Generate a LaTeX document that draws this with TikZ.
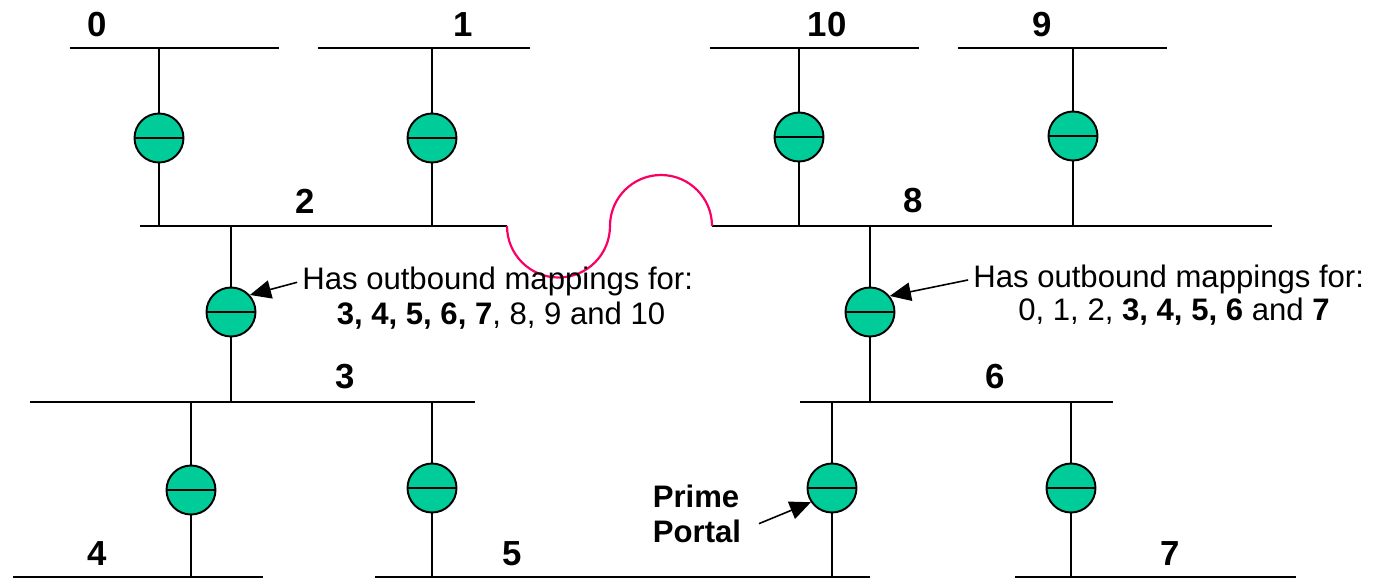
\documentclass[tikz,border=0pt]{standalone}
\usepackage{fontspec}
\setmainfont{Liberation Sans}
\usetikzlibrary{arrows.meta}
\definecolor{portalgreen}{RGB}{0,204,153}
\definecolor{bridgepink}{RGB}{250,0,100}

\begin{document}
\begin{tikzpicture}[
    x=0.02cm, y=-0.02cm,
    every node/.style={font=\fontsize{17.7}{21}\selectfont, inner sep=0pt},
    bus/.style={line width=1.25pt},
    link/.style={line width=1.1pt},
    bridge/.style={line width=1.25pt, draw=bridgepink},
    portal/.style={circle, draw, line width=1.1pt, fill=portalgreen,
      minimum size=0.98cm,
      path picture={\draw[line width=1.1pt] (path picture bounding box.west)
        -- (path picture bounding box.east);}},
    lbl/.style={font=\fontsize{19.8}{22}\selectfont\bfseries},
    ptr/.style={line width=0.9pt, -{Triangle[length=12pt, width=10.5pt]}},
]
\useasboundingbox (0,0) rectangle (1376,579);

% Buses
\draw[bus] (70,48)   -- (279,48);
\draw[bus] (318,48)  -- (530,48);
\draw[bus] (710,48)  -- (919,48);
\draw[bus] (958,48)  -- (1167,48);
\draw[bus] (140,226) -- (507,226);
\draw[bus] (712,226) -- (1272,226);
\draw[bus] (30,402)  -- (475,402);
\draw[bus] (800,402) -- (1113,402);
\draw[bus] (13,577)  -- (263,577);
\draw[bus] (375,577) -- (870,577);
\draw[bus] (1015,577) -- (1296,577);
% bridge between 2 and 8
\draw[bridge] (507,226) arc[start angle=180, end angle=0, radius=51.5]
                        arc[start angle=180, end angle=360, radius=51];

% Bus labels
\node[lbl] (n0)  at (97,25)   {0};
\node[lbl] (n1)  at (463,25)  {1};
\node[lbl] (n10) at (827,25)  {10};
\node[lbl] (n9)  at (1042,25) {9};
\node[lbl] (n2)  at (305,201) {2};
\node[lbl] (n8)  at (913,201) {8};
\node[lbl] (n3)  at (345,377) {3};
\node[lbl] (n6)  at (995,377) {6};
\node[lbl] (n4)  at (97,554)  {4};
\node[lbl] (n5)  at (512,554) {5};
\node[lbl] (n7)  at (1170,554) {7};

% Upper portals
\coordinate (t0) at (159,48);   \coordinate (b0) at (159,226);
\coordinate (t1) at (432,48);   \coordinate (b1) at (432,226);
\coordinate (t10) at (799,48);  \coordinate (b10) at (799,226);
\coordinate (t9) at (1073,48);  \coordinate (b9) at (1073,226);
\node[portal] (p0)  at (159,138)  {};
\node[portal] (p1)  at (432,138)  {};
\node[portal] (p10) at (799,137)  {};
\node[portal] (p9)  at (1073,136) {};
\draw[link] (t0) -- (p0) -- (b0);
\draw[link] (t1) -- (p1) -- (b1);
\draw[link] (t10) -- (p10) -- (b10);
\draw[link] (t9) -- (p9) -- (b9);

% Middle portals
\coordinate (tA) at (231,226);  \coordinate (bA) at (231,402);
\coordinate (tB) at (870,226);  \coordinate (bB) at (870,402);
\node[portal] (pA) at (231,312) {};
\node[portal] (pB) at (870,312) {};
\draw[link] (tA) -- (pA) -- (bA);
\draw[link] (tB) -- (pB) -- (bB);

% Lower portals
\coordinate (t4) at (191,402);  \coordinate (b4) at (191,577);
\coordinate (t5) at (432,402);  \coordinate (b5) at (432,577);
\coordinate (tP) at (832,402);  \coordinate (bP) at (832,577);
\coordinate (t7) at (1071,402); \coordinate (b7) at (1071,577);
\node[portal] (p4) at (191,490)  {};
\node[portal] (p5) at (432,488)  {};
\node[portal] (pP) at (832,488)  {};
\node[portal] (p7) at (1071,488) {};
\draw[link] (t4) -- (p4) -- (b4);
\draw[link] (t5) -- (p5) -- (b5);
\draw[link] (tP) -- (pP) -- (bP);
\draw[link] (t7) -- (p7) -- (b7);

% Notes
\node[anchor=base west] (mapA) at (302,289) {Has outbound mappings for:};
\node[anchor=base] (mapA2) at (501,324) {\textbf{3, 4, 5, 6, 7}, 8, 9 and 10};
\node[anchor=base west] (mapB) at (973,287) {Has outbound mappings for:};
\node[anchor=base] (mapB2) at (1174,320) {0, 1, 2, \textbf{3, 4, 5, 6} and \textbf{7}};
\node[anchor=base, font=\fontsize{17.7}{21}\selectfont\bfseries] (prime) at (696,507) {Prime};
\node[anchor=base, font=\fontsize{17.7}{21}\selectfont\bfseries] (portal) at (697,542) {Portal};
\draw[ptr, shorten <=0.1cm] (mapA.west) -- (pA.42);
\draw[ptr, shorten <=0.1cm] (mapB.west) -- (pB.39);
\draw[ptr, shorten <=0.38cm] (portal.east) -- (pP.214);
\end{tikzpicture}
\end{document}
